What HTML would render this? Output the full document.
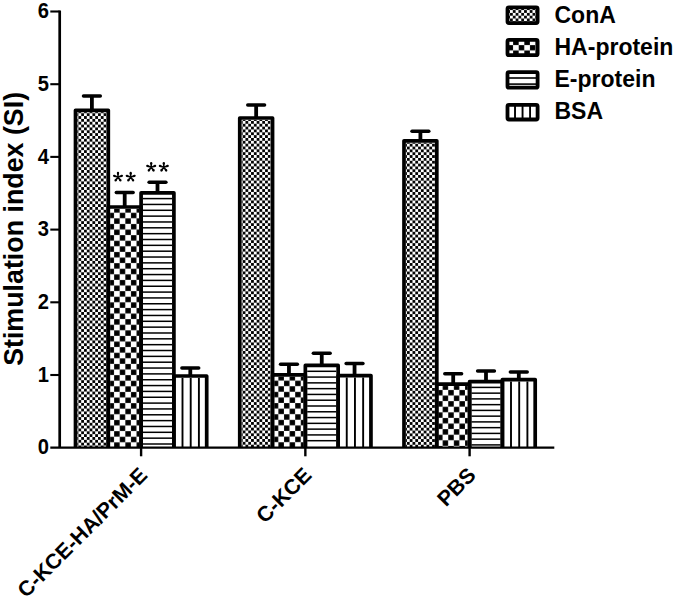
<!DOCTYPE html>
<html><head><meta charset="utf-8">
<style>
html,body{margin:0;padding:0;background:#fff;}
body{width:675px;height:598px;overflow:hidden;}
svg{display:block;}
text{font-family:"Liberation Sans", sans-serif;font-weight:bold;fill:#000;}
</style></head><body>
<svg width="675" height="598" viewBox="0 0 675 598">
<defs>
<pattern id="p00" patternUnits="userSpaceOnUse" width="5.6" height="5.68" x="75.60" y="113.24"><rect width="5.6" height="5.68" fill="#fff"/><rect x="0.025" y="0.020" width="2.75" height="2.8" fill="#000"/><rect x="2.825" y="2.860" width="2.75" height="2.8" fill="#000"/></pattern>
<pattern id="p01" patternUnits="userSpaceOnUse" width="11.2" height="11.2" x="114.10" y="207.10"><rect width="11.2" height="11.2" fill="#fff"/><rect x="0.075" y="0.100" width="5.45" height="5.4" fill="#000"/><rect x="5.675" y="5.700" width="5.45" height="5.4" fill="#000"/></pattern>
<pattern id="p10" patternUnits="userSpaceOnUse" width="5.6" height="5.68" x="239.85" y="120.94"><rect width="5.6" height="5.68" fill="#fff"/><rect x="0.025" y="0.020" width="2.75" height="2.8" fill="#000"/><rect x="2.825" y="2.860" width="2.75" height="2.8" fill="#000"/></pattern>
<pattern id="p11" patternUnits="userSpaceOnUse" width="11.2" height="11.2" x="278.35" y="375.00"><rect width="11.2" height="11.2" fill="#fff"/><rect x="0.075" y="0.100" width="5.45" height="5.4" fill="#000"/><rect x="5.675" y="5.700" width="5.45" height="5.4" fill="#000"/></pattern>
<pattern id="p20" patternUnits="userSpaceOnUse" width="5.6" height="5.68" x="404.10" y="143.74"><rect width="5.6" height="5.68" fill="#fff"/><rect x="0.025" y="0.020" width="2.75" height="2.8" fill="#000"/><rect x="2.825" y="2.860" width="2.75" height="2.8" fill="#000"/></pattern>
<pattern id="p21" patternUnits="userSpaceOnUse" width="11.2" height="11.2" x="442.60" y="384.30"><rect width="11.2" height="11.2" fill="#fff"/><rect x="0.075" y="0.100" width="5.45" height="5.4" fill="#000"/><rect x="5.675" y="5.700" width="5.45" height="5.4" fill="#000"/></pattern>
<pattern id="L0" patternUnits="userSpaceOnUse" width="5.63" height="5.6" x="512.80" y="10.10"><rect width="5.63" height="5.6" fill="#fff"/><rect x="0.032" y="0.025" width="2.75" height="2.75" fill="#000"/><rect x="2.848" y="2.825" width="2.75" height="2.75" fill="#000"/></pattern>
<pattern id="L1" patternUnits="userSpaceOnUse" width="11.2" height="10.6" x="507.50" y="45.10"><rect width="11.2" height="10.6" fill="#fff"/><rect x="0.050" y="0.050" width="5.5" height="5.2" fill="#000"/><rect x="5.650" y="5.350" width="5.5" height="5.2" fill="#000"/></pattern>
</defs>
<rect width="675" height="598" fill="#fff"/>
<rect x="77.35" y="112.15" width="29.10" height="335.45" fill="url(#p00)"/>
<line x1="91.90" y1="110.30" x2="91.90" y2="96.00" stroke="#000" stroke-width="3.8"/>
<line x1="83.50" y1="96.00" x2="100.30" y2="96.00" stroke="#000" stroke-width="3.5" stroke-linecap="round"/>
<path d="M75.50 447.60V110.30H108.30V447.60" fill="none" stroke="#000" stroke-width="3.7" stroke-linejoin="round"/>
<rect x="110.15" y="208.85" width="29.10" height="238.75" fill="url(#p01)"/>
<line x1="124.70" y1="207.00" x2="124.70" y2="192.60" stroke="#000" stroke-width="3.8"/>
<line x1="116.30" y1="192.60" x2="133.10" y2="192.60" stroke="#000" stroke-width="3.5" stroke-linecap="round"/>
<path d="M108.30 447.60V207.00H141.10V447.60" fill="none" stroke="#000" stroke-width="3.7" stroke-linejoin="round"/>
<line x1="142.95" y1="198.60" x2="172.05" y2="198.60" stroke="#000" stroke-width="1.5"/>
<line x1="142.95" y1="204.44" x2="172.05" y2="204.44" stroke="#000" stroke-width="1.5"/>
<line x1="142.95" y1="210.29" x2="172.05" y2="210.29" stroke="#000" stroke-width="1.5"/>
<line x1="142.95" y1="216.13" x2="172.05" y2="216.13" stroke="#000" stroke-width="1.5"/>
<line x1="142.95" y1="221.97" x2="172.05" y2="221.97" stroke="#000" stroke-width="1.5"/>
<line x1="142.95" y1="227.81" x2="172.05" y2="227.81" stroke="#000" stroke-width="1.5"/>
<line x1="142.95" y1="233.66" x2="172.05" y2="233.66" stroke="#000" stroke-width="1.5"/>
<line x1="142.95" y1="239.50" x2="172.05" y2="239.50" stroke="#000" stroke-width="1.5"/>
<line x1="142.95" y1="245.34" x2="172.05" y2="245.34" stroke="#000" stroke-width="1.5"/>
<line x1="142.95" y1="251.19" x2="172.05" y2="251.19" stroke="#000" stroke-width="1.5"/>
<line x1="142.95" y1="257.03" x2="172.05" y2="257.03" stroke="#000" stroke-width="1.5"/>
<line x1="142.95" y1="262.87" x2="172.05" y2="262.87" stroke="#000" stroke-width="1.5"/>
<line x1="142.95" y1="268.71" x2="172.05" y2="268.71" stroke="#000" stroke-width="1.5"/>
<line x1="142.95" y1="274.56" x2="172.05" y2="274.56" stroke="#000" stroke-width="1.5"/>
<line x1="142.95" y1="280.40" x2="172.05" y2="280.40" stroke="#000" stroke-width="1.5"/>
<line x1="142.95" y1="286.24" x2="172.05" y2="286.24" stroke="#000" stroke-width="1.5"/>
<line x1="142.95" y1="292.09" x2="172.05" y2="292.09" stroke="#000" stroke-width="1.5"/>
<line x1="142.95" y1="297.93" x2="172.05" y2="297.93" stroke="#000" stroke-width="1.5"/>
<line x1="142.95" y1="303.77" x2="172.05" y2="303.77" stroke="#000" stroke-width="1.5"/>
<line x1="142.95" y1="309.61" x2="172.05" y2="309.61" stroke="#000" stroke-width="1.5"/>
<line x1="142.95" y1="315.46" x2="172.05" y2="315.46" stroke="#000" stroke-width="1.5"/>
<line x1="142.95" y1="321.30" x2="172.05" y2="321.30" stroke="#000" stroke-width="1.5"/>
<line x1="142.95" y1="327.14" x2="172.05" y2="327.14" stroke="#000" stroke-width="1.5"/>
<line x1="142.95" y1="332.99" x2="172.05" y2="332.99" stroke="#000" stroke-width="1.5"/>
<line x1="142.95" y1="338.83" x2="172.05" y2="338.83" stroke="#000" stroke-width="1.5"/>
<line x1="142.95" y1="344.67" x2="172.05" y2="344.67" stroke="#000" stroke-width="1.5"/>
<line x1="142.95" y1="350.51" x2="172.05" y2="350.51" stroke="#000" stroke-width="1.5"/>
<line x1="142.95" y1="356.36" x2="172.05" y2="356.36" stroke="#000" stroke-width="1.5"/>
<line x1="142.95" y1="362.20" x2="172.05" y2="362.20" stroke="#000" stroke-width="1.5"/>
<line x1="142.95" y1="368.04" x2="172.05" y2="368.04" stroke="#000" stroke-width="1.5"/>
<line x1="142.95" y1="373.89" x2="172.05" y2="373.89" stroke="#000" stroke-width="1.5"/>
<line x1="142.95" y1="379.73" x2="172.05" y2="379.73" stroke="#000" stroke-width="1.5"/>
<line x1="142.95" y1="385.57" x2="172.05" y2="385.57" stroke="#000" stroke-width="1.5"/>
<line x1="142.95" y1="391.41" x2="172.05" y2="391.41" stroke="#000" stroke-width="1.5"/>
<line x1="142.95" y1="397.26" x2="172.05" y2="397.26" stroke="#000" stroke-width="1.5"/>
<line x1="142.95" y1="403.10" x2="172.05" y2="403.10" stroke="#000" stroke-width="1.5"/>
<line x1="142.95" y1="408.94" x2="172.05" y2="408.94" stroke="#000" stroke-width="1.5"/>
<line x1="142.95" y1="414.79" x2="172.05" y2="414.79" stroke="#000" stroke-width="1.5"/>
<line x1="142.95" y1="420.63" x2="172.05" y2="420.63" stroke="#000" stroke-width="1.5"/>
<line x1="142.95" y1="426.47" x2="172.05" y2="426.47" stroke="#000" stroke-width="1.5"/>
<line x1="142.95" y1="432.31" x2="172.05" y2="432.31" stroke="#000" stroke-width="1.5"/>
<line x1="142.95" y1="438.16" x2="172.05" y2="438.16" stroke="#000" stroke-width="1.5"/>
<line x1="142.95" y1="444.00" x2="172.05" y2="444.00" stroke="#000" stroke-width="1.5"/>
<line x1="157.50" y1="192.80" x2="157.50" y2="182.30" stroke="#000" stroke-width="3.8"/>
<line x1="149.10" y1="182.30" x2="165.90" y2="182.30" stroke="#000" stroke-width="3.5" stroke-linecap="round"/>
<path d="M141.10 447.60V192.80H173.90V447.60" fill="none" stroke="#000" stroke-width="3.7" stroke-linejoin="round"/>
<line x1="182.50" y1="377.85" x2="182.50" y2="447.60" stroke="#000" stroke-width="1.9"/>
<line x1="190.70" y1="377.85" x2="190.70" y2="447.60" stroke="#000" stroke-width="1.9"/>
<line x1="198.90" y1="377.85" x2="198.90" y2="447.60" stroke="#000" stroke-width="1.9"/>
<line x1="190.30" y1="376.00" x2="190.30" y2="368.00" stroke="#000" stroke-width="3.8"/>
<line x1="181.90" y1="368.00" x2="198.70" y2="368.00" stroke="#000" stroke-width="3.5" stroke-linecap="round"/>
<path d="M173.90 447.60V376.00H206.70V447.60" fill="none" stroke="#000" stroke-width="3.7" stroke-linejoin="round"/>
<rect x="241.60" y="119.85" width="29.10" height="327.75" fill="url(#p10)"/>
<line x1="256.15" y1="118.00" x2="256.15" y2="105.10" stroke="#000" stroke-width="3.8"/>
<line x1="247.75" y1="105.10" x2="264.55" y2="105.10" stroke="#000" stroke-width="3.5" stroke-linecap="round"/>
<path d="M239.75 447.60V118.00H272.55V447.60" fill="none" stroke="#000" stroke-width="3.7" stroke-linejoin="round"/>
<rect x="274.40" y="376.75" width="29.10" height="70.85" fill="url(#p11)"/>
<line x1="288.95" y1="374.90" x2="288.95" y2="364.20" stroke="#000" stroke-width="3.8"/>
<line x1="280.55" y1="364.20" x2="297.35" y2="364.20" stroke="#000" stroke-width="3.5" stroke-linecap="round"/>
<path d="M272.55 447.60V374.90H305.35V447.60" fill="none" stroke="#000" stroke-width="3.7" stroke-linejoin="round"/>
<line x1="307.20" y1="371.30" x2="336.30" y2="371.30" stroke="#000" stroke-width="1.5"/>
<line x1="307.20" y1="377.08" x2="336.30" y2="377.08" stroke="#000" stroke-width="1.5"/>
<line x1="307.20" y1="382.87" x2="336.30" y2="382.87" stroke="#000" stroke-width="1.5"/>
<line x1="307.20" y1="388.65" x2="336.30" y2="388.65" stroke="#000" stroke-width="1.5"/>
<line x1="307.20" y1="394.43" x2="336.30" y2="394.43" stroke="#000" stroke-width="1.5"/>
<line x1="307.20" y1="400.22" x2="336.30" y2="400.22" stroke="#000" stroke-width="1.5"/>
<line x1="307.20" y1="406.00" x2="336.30" y2="406.00" stroke="#000" stroke-width="1.5"/>
<line x1="307.20" y1="411.78" x2="336.30" y2="411.78" stroke="#000" stroke-width="1.5"/>
<line x1="307.20" y1="417.57" x2="336.30" y2="417.57" stroke="#000" stroke-width="1.5"/>
<line x1="307.20" y1="423.35" x2="336.30" y2="423.35" stroke="#000" stroke-width="1.5"/>
<line x1="307.20" y1="429.13" x2="336.30" y2="429.13" stroke="#000" stroke-width="1.5"/>
<line x1="307.20" y1="434.92" x2="336.30" y2="434.92" stroke="#000" stroke-width="1.5"/>
<line x1="307.20" y1="440.70" x2="336.30" y2="440.70" stroke="#000" stroke-width="1.5"/>
<line x1="321.75" y1="365.40" x2="321.75" y2="353.30" stroke="#000" stroke-width="3.8"/>
<line x1="313.35" y1="353.30" x2="330.15" y2="353.30" stroke="#000" stroke-width="3.5" stroke-linecap="round"/>
<path d="M305.35 447.60V365.40H338.15V447.60" fill="none" stroke="#000" stroke-width="3.7" stroke-linejoin="round"/>
<line x1="346.75" y1="377.45" x2="346.75" y2="447.60" stroke="#000" stroke-width="1.9"/>
<line x1="354.95" y1="377.45" x2="354.95" y2="447.60" stroke="#000" stroke-width="1.9"/>
<line x1="363.15" y1="377.45" x2="363.15" y2="447.60" stroke="#000" stroke-width="1.9"/>
<line x1="354.55" y1="375.60" x2="354.55" y2="363.50" stroke="#000" stroke-width="3.8"/>
<line x1="346.15" y1="363.50" x2="362.95" y2="363.50" stroke="#000" stroke-width="3.5" stroke-linecap="round"/>
<path d="M338.15 447.60V375.60H370.95V447.60" fill="none" stroke="#000" stroke-width="3.7" stroke-linejoin="round"/>
<rect x="405.85" y="142.65" width="29.10" height="304.95" fill="url(#p20)"/>
<line x1="420.40" y1="140.80" x2="420.40" y2="131.20" stroke="#000" stroke-width="3.8"/>
<line x1="412.00" y1="131.20" x2="428.80" y2="131.20" stroke="#000" stroke-width="3.5" stroke-linecap="round"/>
<path d="M404.00 447.60V140.80H436.80V447.60" fill="none" stroke="#000" stroke-width="3.7" stroke-linejoin="round"/>
<rect x="438.65" y="386.05" width="29.10" height="61.55" fill="url(#p21)"/>
<line x1="453.20" y1="384.20" x2="453.20" y2="373.70" stroke="#000" stroke-width="3.8"/>
<line x1="444.80" y1="373.70" x2="461.60" y2="373.70" stroke="#000" stroke-width="3.5" stroke-linecap="round"/>
<path d="M436.80 447.60V384.20H469.60V447.60" fill="none" stroke="#000" stroke-width="3.7" stroke-linejoin="round"/>
<line x1="471.45" y1="387.40" x2="500.55" y2="387.40" stroke="#000" stroke-width="1.5"/>
<line x1="471.45" y1="393.15" x2="500.55" y2="393.15" stroke="#000" stroke-width="1.5"/>
<line x1="471.45" y1="398.90" x2="500.55" y2="398.90" stroke="#000" stroke-width="1.5"/>
<line x1="471.45" y1="404.65" x2="500.55" y2="404.65" stroke="#000" stroke-width="1.5"/>
<line x1="471.45" y1="410.40" x2="500.55" y2="410.40" stroke="#000" stroke-width="1.5"/>
<line x1="471.45" y1="416.15" x2="500.55" y2="416.15" stroke="#000" stroke-width="1.5"/>
<line x1="471.45" y1="421.90" x2="500.55" y2="421.90" stroke="#000" stroke-width="1.5"/>
<line x1="471.45" y1="427.65" x2="500.55" y2="427.65" stroke="#000" stroke-width="1.5"/>
<line x1="471.45" y1="433.40" x2="500.55" y2="433.40" stroke="#000" stroke-width="1.5"/>
<line x1="471.45" y1="439.15" x2="500.55" y2="439.15" stroke="#000" stroke-width="1.5"/>
<line x1="471.45" y1="444.90" x2="500.55" y2="444.90" stroke="#000" stroke-width="1.5"/>
<line x1="486.00" y1="381.60" x2="486.00" y2="371.10" stroke="#000" stroke-width="3.8"/>
<line x1="477.60" y1="371.10" x2="494.40" y2="371.10" stroke="#000" stroke-width="3.5" stroke-linecap="round"/>
<path d="M469.60 447.60V381.60H502.40V447.60" fill="none" stroke="#000" stroke-width="3.7" stroke-linejoin="round"/>
<line x1="511.00" y1="381.45" x2="511.00" y2="447.60" stroke="#000" stroke-width="1.9"/>
<line x1="519.20" y1="381.45" x2="519.20" y2="447.60" stroke="#000" stroke-width="1.9"/>
<line x1="527.40" y1="381.45" x2="527.40" y2="447.60" stroke="#000" stroke-width="1.9"/>
<line x1="518.80" y1="379.60" x2="518.80" y2="371.90" stroke="#000" stroke-width="3.8"/>
<line x1="510.40" y1="371.90" x2="527.20" y2="371.90" stroke="#000" stroke-width="3.5" stroke-linecap="round"/>
<path d="M502.40 447.60V379.60H535.20V447.60" fill="none" stroke="#000" stroke-width="3.7" stroke-linejoin="round"/>
<path d="M59.7 10.4 V447.6" fill="none" stroke="#000" stroke-width="2.7"/>
<path d="M50.3 447.6 H554.3" fill="none" stroke="#000" stroke-width="2.4"/>
<text transform="translate(48.9,454.30) scale(0.96,1.05)" font-size="21" text-anchor="end">0</text>
<line x1="50.3" y1="375.00" x2="59.7" y2="375.00" stroke="#000" stroke-width="2.1"/>
<text transform="translate(48.9,381.60) scale(0.96,1.05)" font-size="21" text-anchor="end">1</text>
<line x1="50.3" y1="302.30" x2="59.7" y2="302.30" stroke="#000" stroke-width="2.1"/>
<text transform="translate(48.9,308.90) scale(0.96,1.05)" font-size="21" text-anchor="end">2</text>
<line x1="50.3" y1="229.60" x2="59.7" y2="229.60" stroke="#000" stroke-width="2.1"/>
<text transform="translate(48.9,236.20) scale(0.96,1.05)" font-size="21" text-anchor="end">3</text>
<line x1="50.3" y1="156.90" x2="59.7" y2="156.90" stroke="#000" stroke-width="2.1"/>
<text transform="translate(48.9,163.50) scale(0.96,1.05)" font-size="21" text-anchor="end">4</text>
<line x1="50.3" y1="84.20" x2="59.7" y2="84.20" stroke="#000" stroke-width="2.1"/>
<text transform="translate(48.9,90.80) scale(0.96,1.05)" font-size="21" text-anchor="end">5</text>
<line x1="50.3" y1="11.50" x2="59.7" y2="11.50" stroke="#000" stroke-width="2.1"/>
<text transform="translate(48.9,18.10) scale(0.96,1.05)" font-size="21" text-anchor="end">6</text>
<line x1="141.10" y1="447.6" x2="141.10" y2="456.3" stroke="#000" stroke-width="2.4"/>
<line x1="305.35" y1="447.6" x2="305.35" y2="456.3" stroke="#000" stroke-width="2.4"/>
<line x1="469.60" y1="447.6" x2="469.60" y2="456.3" stroke="#000" stroke-width="2.4"/>
<text transform="translate(148.50,476.5) rotate(-45)" font-size="21.3" text-anchor="end">C-KCE-HA/PrM-E</text>
<text transform="translate(312.75,476.5) rotate(-45)" font-size="21.3" text-anchor="end">C-KCE</text>
<text transform="translate(477.00,476.5) rotate(-45)" font-size="21.3" text-anchor="end">PBS</text>
<g fill="#000"><path d="M118.55 177.10L119.15 173.00L116.85 173.00L117.45 177.10ZM118.17 176.58L114.46 174.74L113.75 176.93L117.83 177.62ZM117.56 176.78L114.66 179.74L116.52 181.09L118.44 177.42ZM117.56 177.42L119.48 181.09L121.34 179.74L118.44 176.78ZM118.17 177.62L122.25 176.93L121.54 174.74L117.83 176.58Z" fill-rule="nonzero"/><circle cx="118.00" cy="173.00" r="1.15"/><circle cx="114.10" cy="175.83" r="1.15"/><circle cx="115.59" cy="180.42" r="1.15"/><circle cx="120.41" cy="180.42" r="1.15"/><circle cx="121.90" cy="175.83" r="1.15"/></g>
<g fill="#000"><path d="M131.25 177.10L131.85 173.00L129.55 173.00L130.15 177.10ZM130.87 176.58L127.16 174.74L126.45 176.93L130.53 177.62ZM130.26 176.78L127.36 179.74L129.22 181.09L131.14 177.42ZM130.26 177.42L132.18 181.09L134.04 179.74L131.14 176.78ZM130.87 177.62L134.95 176.93L134.24 174.74L130.53 176.58Z" fill-rule="nonzero"/><circle cx="130.70" cy="173.00" r="1.15"/><circle cx="126.80" cy="175.83" r="1.15"/><circle cx="128.29" cy="180.42" r="1.15"/><circle cx="133.11" cy="180.42" r="1.15"/><circle cx="134.60" cy="175.83" r="1.15"/></g>
<g fill="#000"><path d="M151.75 167.20L152.35 163.10L150.05 163.10L150.65 167.20ZM151.37 166.68L147.66 164.84L146.95 167.03L151.03 167.72ZM150.76 166.88L147.86 169.84L149.72 171.19L151.64 167.52ZM150.76 167.52L152.68 171.19L154.54 169.84L151.64 166.88ZM151.37 167.72L155.45 167.03L154.74 164.84L151.03 166.68Z" fill-rule="nonzero"/><circle cx="151.20" cy="163.10" r="1.15"/><circle cx="147.30" cy="165.93" r="1.15"/><circle cx="148.79" cy="170.52" r="1.15"/><circle cx="153.61" cy="170.52" r="1.15"/><circle cx="155.10" cy="165.93" r="1.15"/></g>
<g fill="#000"><path d="M164.35 167.20L164.95 163.10L162.65 163.10L163.25 167.20ZM163.97 166.68L160.26 164.84L159.55 167.03L163.63 167.72ZM163.36 166.88L160.46 169.84L162.32 171.19L164.24 167.52ZM163.36 167.52L165.28 171.19L167.14 169.84L164.24 166.88ZM163.97 167.72L168.05 167.03L167.34 164.84L163.63 166.68Z" fill-rule="nonzero"/><circle cx="163.80" cy="163.10" r="1.15"/><circle cx="159.90" cy="165.93" r="1.15"/><circle cx="161.39" cy="170.52" r="1.15"/><circle cx="166.21" cy="170.52" r="1.15"/><circle cx="167.70" cy="165.93" r="1.15"/></g>
<text transform="translate(23.0,228.9) rotate(-90)" font-size="26.8" text-anchor="middle">Stimulation index (SI)</text>
<rect x="507.50" y="7.30" width="30.10" height="15.80" fill="url(#L0)"/>
<rect x="507.50" y="7.30" width="30.10" height="15.80" rx="1.5" fill="none" stroke="#000" stroke-width="3.8"/>
<text x="554.5" y="22.8" font-size="23">ConA</text>
<rect x="507.50" y="39.90" width="30.10" height="15.30" fill="url(#L1)"/>
<rect x="507.50" y="39.90" width="30.10" height="15.30" rx="1.5" fill="none" stroke="#000" stroke-width="3.8"/>
<text x="554.5" y="55.0" font-size="23">HA-protein</text>
<line x1="507.50" y1="78.0" x2="537.60" y2="78.0" stroke="#000" stroke-width="1.6"/>
<line x1="507.50" y1="84.1" x2="537.60" y2="84.1" stroke="#000" stroke-width="1.6"/>
<rect x="507.50" y="72.20" width="30.10" height="15.50" rx="1.5" fill="none" stroke="#000" stroke-width="3.8"/>
<text x="554.5" y="86.5" font-size="23">E-protein</text>
<line x1="515.02" y1="104.80" x2="515.02" y2="119.50" stroke="#000" stroke-width="1.9"/>
<line x1="522.55" y1="104.80" x2="522.55" y2="119.50" stroke="#000" stroke-width="1.9"/>
<line x1="530.08" y1="104.80" x2="530.08" y2="119.50" stroke="#000" stroke-width="1.9"/>
<rect x="507.50" y="104.80" width="30.10" height="14.70" rx="1.5" fill="none" stroke="#000" stroke-width="3.8"/>
<text x="554.5" y="118.9" font-size="23">BSA</text>
</svg></body></html>
